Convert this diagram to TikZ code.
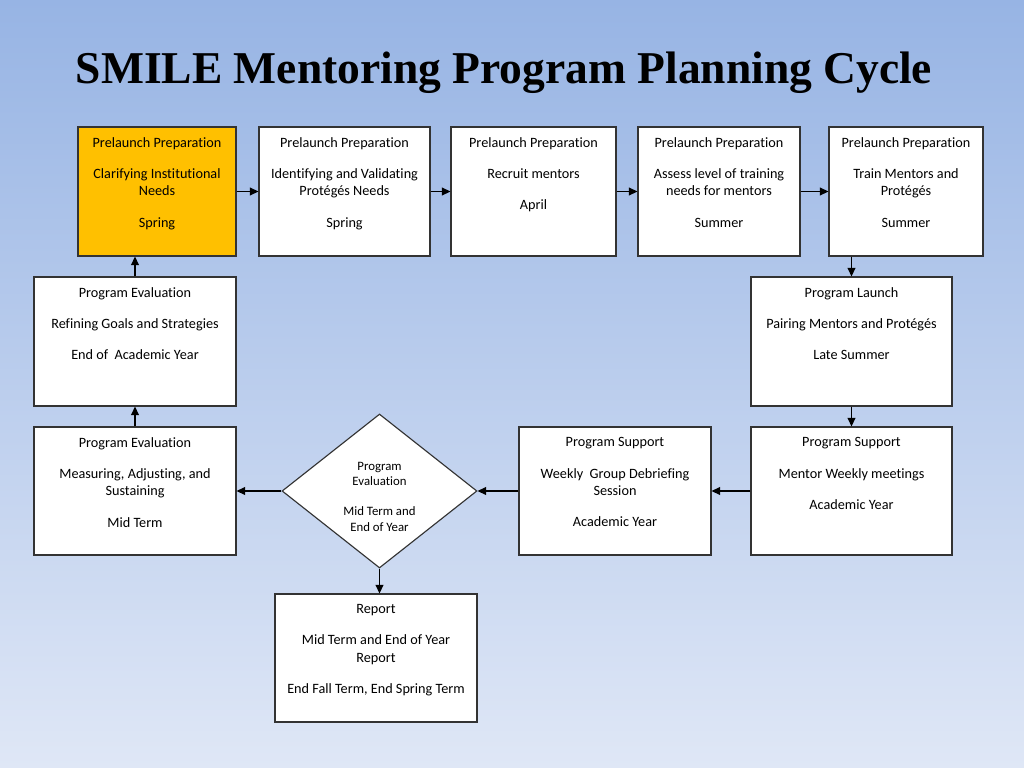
\documentclass[tikz,border=0pt]{standalone}
\usepackage{fontspec}
\setmainfont{Carlito}[Ligatures=NoCommon]
\newfontfamily\titlefont{Liberation Serif}
\usetikzlibrary{arrows.meta,positioning,shapes.geometric}

\definecolor{skytop}{RGB}{151,180,228}
\definecolor{skybottom}{RGB}{223,231,246}
\definecolor{springgold}{RGB}{255,192,0}
\def\pxu{0.703pt}

\tikzset{
  stage/.style={draw=black!80, line width=0.8pt, fill=white, inner sep=0pt},
  stagetext/.style={align=center, inner sep=0pt, font=\fontsize{10}{12}\selectfont},
  flow/.style={-{Triangle[length=6pt,width=5.5pt]}, line width=1pt, black},
}

\begin{document}
\begin{tikzpicture}[x=0.703pt, y=-0.703pt]
    % background
    \shade[top color=skytop, bottom color=skybottom] (0,0) rectangle (1024,768);
    \useasboundingbox (0,0) rectangle (1024,768);

    \node[font=\titlefont\bfseries\fontsize{32}{38}\selectfont, anchor=base] (title) at (504,83)
        {SMILE Mentoring Program Planning Cycle};

    % top row
    \node[stage, fill=springgold, minimum width=158*\pxu, minimum height=129*\pxu] (a1) at (157,191.5) {};
    \node[stage, minimum width=171*\pxu, minimum height=129*\pxu] (a2) at (344.5,191.5) {};
    \node[stage, minimum width=165*\pxu, minimum height=129*\pxu] (a3) at (533.5,191.5) {};
    \node[stage, minimum width=162*\pxu, minimum height=129*\pxu] (a4) at (719,191.5) {};
    \node[stage, minimum width=154*\pxu, minimum height=129*\pxu] (a5) at (906,191.5) {};

    % middle row
    \node[stage, minimum width=202*\pxu, minimum height=129*\pxu] (b1) at (135,341.5) {};
    \node[stage, minimum width=201*\pxu, minimum height=129*\pxu] (b5) at (851.5,341.5) {};

    % bottom row
    \node[stage, minimum width=202*\pxu, minimum height=128*\pxu] (c1) at (135,491) {};
    \node[stage, diamond, minimum width=195*\pxu, minimum height=154*\pxu] (eval) at (379.5,491) {};
    \node[stage, minimum width=192*\pxu, minimum height=128*\pxu] (c3) at (615,491) {};
    \node[stage, minimum width=201*\pxu, minimum height=128*\pxu] (c5) at (851.5,491) {};
    \node[stage, minimum width=202*\pxu, minimum height=128*\pxu] (report) at (376,658) {};

    % box texts
    \node[stagetext, below=7.6pt of a1.north] (a1txt)
        {Prelaunch Preparation\\[10pt]Clarifying Institutional\\Needs\\[10pt]Spring};
    \node[stagetext, below=7.6pt of a2.north] (a2txt)
        {Prelaunch Preparation\\[10pt]Identifying and Validating\\Protégés Needs\\[10pt]Spring};
    \node[stagetext, below=7.6pt of a3.north] (a3txt)
        {Prelaunch Preparation\\[10pt]Recruit mentors\\[10pt]April};
    \node[stagetext, below=7.6pt of a4.north] (a4txt)
        {Prelaunch Preparation\\[10pt]Assess level of training\\needs for mentors\\[10pt]Summer};
    \node[stagetext, below=7.6pt of a5.north] (a5txt)
        {Prelaunch Preparation\\[10pt]Train Mentors and\\Protégés\\[10pt]Summer};
    \node[stagetext, below=7.6pt of b1.north] (b1txt)
        {Program Evaluation\\[10pt]Refining Goals and Strategies\\[10pt]End of\ \ Academic Year};
    \node[stagetext, below=7.6pt of b5.north] (b5txt)
        {Program Launch\\[10pt]Pairing Mentors and Protégés\\[10pt]Late Summer};
    \node[stagetext, below=7.6pt of c1.north] (c1txt)
        {Program Evaluation\\[10pt]Measuring, Adjusting, and\\Sustaining\\[10pt]Mid Term};
    \node[stagetext, below=7.6pt of c3.north] (c3txt)
        {Program Support\\[10pt]Weekly\ \ Group Debriefing\\Session\\[10pt]Academic Year};
    \node[stagetext, below=7.6pt of c5.north] (c5txt)
        {Program Support\\[10pt]Mentor Weekly meetings\\[10pt]Academic Year};
    \node[stagetext, below=7.6pt of report.north] (reporttxt)
        {Report\\[10pt]Mid Term and End of Year\\Report\\[10pt]End Fall Term, End Spring Term};
    \node[stagetext, font=\fontsize{9}{11}\selectfont, yshift=-4pt] (evaltxt) at (eval)
        {Program\\Evaluation\\[10pt]Mid Term and\\End of Year};

    % arrows
    \draw[flow] (a1) -- (a2);
    \draw[flow] (a2) -- (a3);
    \draw[flow] (a3) -- (a4);
    \draw[flow] (a4) -- (a5);
    \draw[flow] (b5.north |- a5.south) -- (b5.north);
    \draw[flow] (b5) -- (c5);
    \draw[flow] (c5) -- (c3);
    \draw[flow] (c3) -- (eval);
    \draw[flow] (eval) -- (c1);
    \draw[flow] (eval.south) -- (eval.south |- report.north);
    \draw[flow] (c1) -- (b1);
    \draw[flow] (b1.north) -- (b1.north |- a1.south);
\end{tikzpicture}
\end{document}
